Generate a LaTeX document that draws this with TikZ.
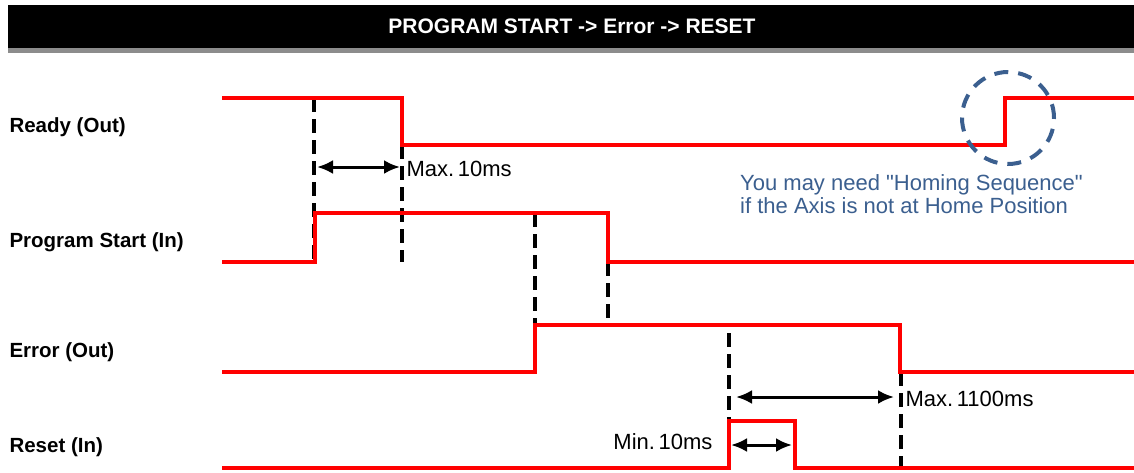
\documentclass[tikz,border=0pt]{standalone}
\usepackage{fontspec}
\setmainfont{Liberation Sans}[Ligatures=TeXOff]
\usetikzlibrary{calc,arrows.meta}
\definecolor{homeblue}{RGB}{59,95,143}
\tikzset{
    signal/.style={red, line width=3.4pt, line join=miter},
    marker/.style={black, line width=3.2pt, dash pattern=on 14pt off 7pt}
}

\begin{document}
\begin{tikzpicture}[
        x=1pt, y=-1pt,
        sig/.style={anchor=west, font=\fontsize{20.5}{24}\bfseries\selectfont},
        note/.style={font=\fontsize{22}{23}\selectfont},
        span/.style={{Latex[length=16pt,width=14pt]}-{Latex[length=16pt,width=14pt]}, line width=3pt}
      ]
    \useasboundingbox (0,0) rectangle (1134,472);

    \fill[gray!90] (8,47) rectangle (1134,53);
    \fill[black] (8,5) rectangle (1134,48);
    \node[text=white, font=\fontsize{21}{24}\bfseries\selectfont] (T) at (572,26) {PROGRAM START -> Error -> RESET};

    \node[sig] (ready) at (6,127) {Ready (Out)};
    \node[sig] (start) at (6,242) {Program Start (In)};
    \node[sig] (error) at (6,352) {Error (Out)};
    \node[sig] (reset) at (6,447) {Reset (In)};

    % timing marks
    \coordinate (A1) at (314,98);  \coordinate (A2) at (314,262);
    \coordinate (B1) at (402,145); \coordinate (B2) at (402,262);
    \coordinate (C1) at (535,213); \coordinate (C2) at (535,372);
    \coordinate (D1) at (608,262); \coordinate (D2) at (608,325);
    \coordinate (E1) at (729,333); \coordinate (E2) at (729,470);
    \coordinate (F1) at (901,372); \coordinate (F2) at (901,470);
    \draw[marker] (A1) -- (A2);
    \draw[marker] (B1) -- (B2);
    \draw[marker] (C1) -- (C2);
    \draw[marker] (D1) -- (D2);
    \draw[marker] (E1) -- (E2);
    \draw[marker] (F1) -- (F2);

    % waveforms
    \draw[signal] (222,98) -- (402,98) -- (402,145) -- (1005,145) -- (1005,98) -- (1134,98);
    \draw[signal] (222,262) -- (315,262) -- (315,213) -- (608,213) -- (608,262) -- (1134,262);
    \draw[signal] (222,372) -- (535,372) -- (535,325) -- (900,325) -- (900,372) -- (1134,372);
    \draw[signal] (222,468) -- (729,468) -- (729,421) -- (795,421) -- (795,468) -- (1134,468);

    \coordinate (p1) at (317,167); \coordinate (p2) at (400,167);
    \coordinate (q1) at (736,397); \coordinate (q2) at (894,397);
    \coordinate (r1) at (731,445); \coordinate (r2) at (792,445);
    \draw[span] (p1) -- (p2);
    \draw[span] (q1) -- (q2);
    \draw[span] (r1) -- (r2);

    \node[note, anchor=west] (max10) at (403,169) {Max.\,10ms};
    \node[note, anchor=west] (max1100) at (902,399) {Max.\,1100ms};
    \node[note, anchor=east] (min10) at (716,442) {Min.\,10ms};

    % homing hint
    \node[draw=homeblue, circle, line width=4pt, dash pattern=on 14pt off 10pt,
          minimum size=92pt] (home) at (1008,118) {};
    \node[note, text=homeblue, anchor=north west, align=left, inner sep=0pt] (hint) at (740,174)
        {You may need "Homing Sequence"\\if the Axis is not at Home Position};

\end{tikzpicture}
\end{document}
